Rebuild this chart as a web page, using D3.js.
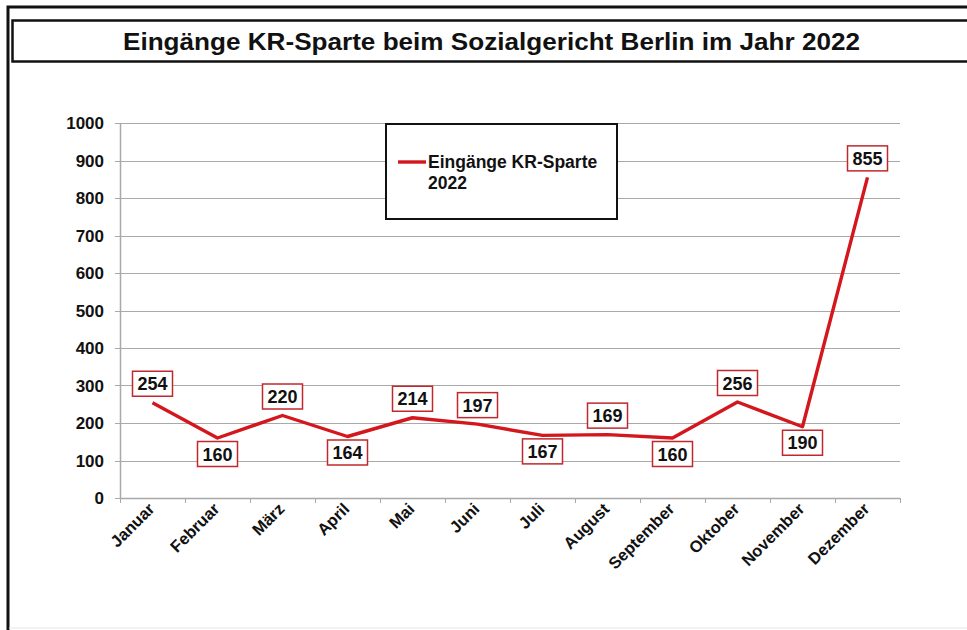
<!DOCTYPE html>
<html lang="de">
<head>
<meta charset="UTF-8">
<title>Eingänge KR-Sparte</title>
<script src="https://d3js.org/d3.v7.min.js"></script>
<style>
body { margin: 0; background: #fff; }
text { font-family: "Liberation Sans", Arial, sans-serif; font-weight: bold; fill: #111; }
</style>
</head>
<body>
<div id="chart"></div>
<script>
// data
const months = ['Januar', 'Februar', 'März', 'April', 'Mai', 'Juni', 'Juli',
                'August', 'September', 'Oktober', 'November', 'Dezember']
const values = [254, 160, 220, 164, 214, 197, 167, 169, 160, 256, 190, 855]
const yTicks = [0, 100, 200, 300, 400, 500, 600, 700, 800, 900, 1000]
const seriesName = ['Eingänge KR-Sparte', '2022']
const title = 'Eingänge KR-Sparte beim Sozialgericht Berlin im Jahr 2022'

const width = 967, height = 630
const plot = {left: 120, right: 900, top: 123, bottom: 498}
const lineColor = '#d4171d'
const boxColor = '#c0282d'
const gridColor = '#a9a9a9'

let svg = d3.select('#chart').append('svg')
  .attr('width', width).attr('height', height)

let x = d3.scaleBand().domain(months).range([plot.left, plot.right])
let y = d3.scaleLinear().domain([0, 1000]).range([plot.bottom, plot.top])

function drawFrame() {
  // outer frame (top + left), title box
  svg.append('path')
    .attr('d', `M${width},7 H8 V${height}`)
    .attr('fill', 'none').attr('stroke', '#111').attr('stroke-width', 3)
  svg.append('line')
    .attr('x1', 9).attr('x2', width).attr('y1', 628).attr('y2', 628)
    .attr('stroke', '#e6e6e6').attr('stroke-width', 1)
  svg.append('rect')
    .attr('x', 12.5).attr('y', 20.5).attr('width', width).attr('height', 41)
    .attr('fill', '#fff').attr('stroke', '#111').attr('stroke-width', 2.5)
  svg.append('text')
    .attr('x', 123).attr('y', 50)
    .attr('textLength', 737).attr('lengthAdjust', 'spacingAndGlyphs')
    .style('font-size', '23px')
    .text(title)
}

function drawYaxis() {
  let g = svg.append('g')
  g.selectAll('.grid').data(yTicks.filter(d => d > 0)).enter()
    .append('line')
      .attr('x1', plot.left).attr('x2', plot.right)
      .attr('y1', d => Math.round(y(d)) + 0.5).attr('y2', d => Math.round(y(d)) + 0.5)
      .attr('stroke', gridColor).attr('stroke-width', 1)
  g.selectAll('.tick').data(yTicks).enter()
    .append('line')
      .attr('x1', plot.left - 5).attr('x2', plot.left)
      .attr('y1', d => Math.round(y(d)) + 0.5).attr('y2', d => Math.round(y(d)) + 0.5)
      .attr('stroke', gridColor)
  g.append('line')
    .attr('x1', plot.left + 0.5).attr('x2', plot.left + 0.5)
    .attr('y1', plot.top).attr('y2', plot.bottom)
    .attr('stroke', gridColor).attr('stroke-width', 1.5)
  g.selectAll('.lab').data(yTicks).enter()
    .append('text')
      .attr('x', 104).attr('y', d => y(d) + 6)
      .attr('text-anchor', 'end')
      .style('font-size', '17px')
      .text(d => d)
}

function drawXaxis() {
  let g = svg.append('g')
  g.append('line')
    .attr('x1', plot.left).attr('x2', plot.right)
    .attr('y1', plot.bottom + 0.5).attr('y2', plot.bottom + 0.5)
    .attr('stroke', gridColor).attr('stroke-width', 1.5)
  let edges = months.map(m => x(m)).concat([plot.right])
  g.selectAll('.tick').data(edges).enter()
    .append('line')
      .attr('x1', d => Math.round(d) + 0.5).attr('x2', d => Math.round(d) + 0.5)
      .attr('y1', plot.bottom).attr('y2', plot.bottom + 5)
      .attr('stroke', gridColor)
  g.selectAll('.lab').data(months).enter()
    .append('text')
      .attr('text-anchor', 'end')
      .attr('transform', d => `translate(${x(d) + x.bandwidth() / 2 + 3},${plot.bottom + 12}) rotate(-45)`)
      .style('font-size', '16.5px')
      .text(d => d)
}

function drawLine() {
  svg.append('path')
    .datum(values)
    .attr('fill', 'none')
    .attr('stroke', lineColor)
    .attr('stroke-width', 3.4)
    .attr('stroke-linejoin', 'round')
    .attr('d', d3.line()
      .x((d, i) => x(months[i]) + x.bandwidth() / 2)
      .y(d => y(d)))
}

function drawLabels() {
  // label goes below the point at local minima, above otherwise
  let g = svg.append('g')
  values.forEach((v, i) => {
    let prev = i > 0 ? values[i - 1] : Infinity
    let next = i < values.length - 1 ? values[i + 1] : Infinity
    let below = v < prev && v < next
    let cx = x(months[i]) + x.bandwidth() / 2
    let cy = below ? y(v) + 16 : y(v) - 19
    let lab = g.append('g').attr('transform', `translate(${cx},${cy})`)
    lab.append('rect')
      .attr('x', -20).attr('y', -12.5).attr('width', 40).attr('height', 25)
      .attr('fill', '#fff').attr('stroke', boxColor).attr('stroke-width', 1.5)
    lab.append('text')
      .attr('text-anchor', 'middle').attr('y', 6.5)
      .style('font-size', '18px')
      .text(v)
  })
}

function drawLegend() {
  let g = svg.append('g')
  g.append('rect')
    .attr('x', 386).attr('y', 124).attr('width', 231).attr('height', 95)
    .attr('fill', '#fff').attr('stroke', '#111').attr('stroke-width', 2)
  g.append('line')
    .attr('x1', 398).attr('x2', 426).attr('y1', 162).attr('y2', 162)
    .attr('stroke', lineColor).attr('stroke-width', 3.4)
  g.selectAll('.leg').data(seriesName).enter()
    .append('text')
      .attr('x', 428).attr('y', (d, i) => 168 + i * 21)
      .style('font-size', '17.5px')
      .text(d => d)
}

drawFrame()
drawYaxis()
drawXaxis()
drawLine()
drawLabels()
drawLegend()
</script>
</body>
</html>
